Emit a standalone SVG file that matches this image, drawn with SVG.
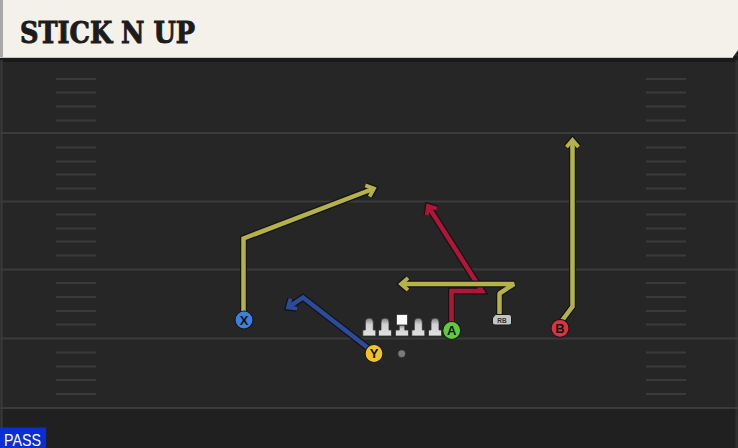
<svg xmlns="http://www.w3.org/2000/svg" width="738" height="448" viewBox="0 0 738 448">
<defs>
<style>
.yl{stroke:#3b3b3b;stroke-width:2;}
.hash{stroke:#3a3a3a;stroke-width:2;}
.out{fill:none;stroke:#141414;stroke-width:7;stroke-linejoin:miter;stroke-linecap:butt;}
.rt{fill:none;stroke-width:4.5;stroke-linejoin:miter;stroke-linecap:butt;}
.bev{stroke-linejoin:bevel;}
.yel{stroke:#b5b24a;}
.red{stroke:#b0163a;}
.blu{stroke:#2c4b9c;}
.pl{stroke:#1a1a1a;stroke-width:1.2;}
.lt{font-family:"Liberation Sans",Arial,sans-serif;font-weight:bold;font-size:13px;fill:#111;text-anchor:middle;}
.ol{fill:url(#lg);stroke:#333;stroke-width:0.8;}
</style>
<linearGradient id="lg" x1="0" y1="0" x2="0" y2="1">
<stop offset="0" stop-color="#7e7e7e"/>
<stop offset="0.35" stop-color="#d0d0d0"/>
<stop offset="1" stop-color="#e2e2e2"/>
</linearGradient>
<marker id="ay" markerUnits="userSpaceOnUse" orient="auto" refX="0" refY="0" markerWidth="30" markerHeight="30" overflow="visible">
<path d="M-7,-6 L0,0 L-7,6" fill="none" stroke="#141414" stroke-width="6.5" stroke-linejoin="miter"/>
<path d="M-8,0 L0,0" fill="none" stroke="#b5b24a" stroke-width="4.5"/>
<path d="M-7,-6 L0,0 L-7,6" fill="none" stroke="#b5b24a" stroke-width="3.8" stroke-linejoin="miter"/>
</marker>
<marker id="ar" markerUnits="userSpaceOnUse" orient="auto" refX="0" refY="0" markerWidth="30" markerHeight="30" overflow="visible">
<path d="M-7,-6 L0,0 L-7,6" fill="none" stroke="#141414" stroke-width="6.5" stroke-linejoin="miter"/>
<path d="M-8,0 L0,0" fill="none" stroke="#b0163a" stroke-width="4.5"/>
<path d="M-7,-6 L0,0 L-7,6" fill="none" stroke="#b0163a" stroke-width="3.8" stroke-linejoin="miter"/>
</marker>
<marker id="ab" markerUnits="userSpaceOnUse" orient="auto" refX="0" refY="0" markerWidth="30" markerHeight="30" overflow="visible">
<path d="M-7,-6 L0,0 L-7,6" fill="none" stroke="#141414" stroke-width="6.5" stroke-linejoin="miter"/>
<path d="M-8,0 L0,0" fill="none" stroke="#2c4b9c" stroke-width="4.5"/>
<path d="M-7,-6 L0,0 L-7,6" fill="none" stroke="#2c4b9c" stroke-width="3.8" stroke-linejoin="miter"/>
</marker>
</defs>

<!-- field -->
<rect x="0" y="0" width="738" height="448" fill="#262626"/>
<rect x="0" y="408" width="738" height="40" fill="#202020"/>
<rect x="0" y="56" width="738" height="6" fill="#1a1a1a"/>
<line x1="1.5" y1="60" x2="1.5" y2="448" stroke="#3a3a3a" stroke-width="2"/>
<line x1="736.5" y1="60" x2="736.5" y2="448" stroke="#333" stroke-width="2"/>
<g id="yardlines">
<line class="yl" x1="0" y1="133" x2="738" y2="133"/>
<line class="yl" x1="0" y1="201.5" x2="738" y2="201.5"/>
<line class="yl" x1="0" y1="269.5" x2="738" y2="269.5"/>
<line class="yl" x1="0" y1="338.5" x2="738" y2="338.5"/>
<line class="yl" x1="0" y1="408" x2="738" y2="408"/>
</g>
<g id="hashes">
<path class="hash" d="M56,79H96M56,92.5H96M56,106.5H96M56,120.5H96M56,147.5H96M56,161.5H96M56,174.5H96M56,188.5H96M56,214.5H96M56,228.5H96M56,241.5H96M56,255.5H96M56,283H96M56,297H96M56,311H96M56,324.5H96M56,352.5H96M56,366.5H96M56,380H96M56,394H96"/>
<path class="hash" d="M646,79H686M646,92.5H686M646,106.5H686M646,120.5H686M646,147.5H686M646,161.5H686M646,174.5H686M646,188.5H686M646,214.5H686M646,228.5H686M646,241.5H686M646,255.5H686M646,283H686M646,297H686M646,311H686M646,324.5H686M646,352.5H686M646,366.5H686M646,380H686M646,394H686"/>
</g>

<!-- header -->
<g id="header">
<path d="M0,0 H738 V50 L733,57 H0 Z" fill="#f4f1ea"/>
<rect x="0" y="0" width="3" height="57" fill="#a8a8a8"/>
<line x1="0" y1="57.5" x2="733" y2="57.5" stroke="#c9c6bf" stroke-width="1"/>
<text x="20" y="43" font-family="'DejaVu Serif',serif" font-weight="bold" font-size="29" fill="#1c1c1c" stroke="#1c1c1c" stroke-width="1" textLength="175" lengthAdjust="spacingAndGlyphs">STICK N UP</text>
</g>

<!-- connectors -->
<g id="connectors">
<!-- X route -->
<path class="out" d="M243.5,318 V238.5 L374,188.5"/>
<path class="rt yel" d="M243.5,318 V238.5 L374,188.5" marker-end="url(#ay)"/>
<!-- Y route -->
<path class="out" d="M372,351 L303,297.5 L288,307.5"/>
<path class="rt blu" d="M372,351 L303,297.5 L288,307.5" marker-end="url(#ab)"/>
<!-- A route -->
<path class="out" d="M451.5,322 V291 H482 L428,206"/>
<path class="rt red" d="M451.5,322 V291 H482 L428,206" marker-end="url(#ar)"/>
<!-- RB route -->
<path class="out bev" d="M499.5,315 V293.5 L514,284 H401"/>
<path class="rt yel bev" d="M499.5,315 V293.5 L514,284 H401" marker-end="url(#ay)"/>
<!-- B route -->
<path class="out" d="M561,322 L572.5,306.5 V140"/>
<path class="rt yel" d="M561,322 L572.5,306.5 V140" marker-end="url(#ay)"/>
</g>

<!-- linemen -->
<g id="lt">
<path class="ol" d="M365.3,330 V322 A4,4 0 0 1 373.3,322 V330 H375.8 V336 H362.8 V330 Z"/>
</g>
<g id="lg2">
<path class="ol" d="M381,330 V322 A4,4 0 0 1 389,322 V330 H391.5 V336 H378.5 V330 Z"/>
</g>
<g id="c">
<path class="ol" d="M399.2,325 V330 H395.5 V336 H408.5 V330 H404.8 V325 Z"/>
<rect x="396.5" y="314.5" width="11" height="10.5" fill="#fafafa" stroke="#333" stroke-width="0.8"/>
</g>
<g id="rg">
<path class="ol" d="M414.3,330 V322 A4,4 0 0 1 422.3,322 V330 H424.8 V336 H411.8 V330 Z"/>
</g>
<g id="rt">
<path class="ol" d="M431,330 V322 A4,4 0 0 1 439,322 V330 H441.5 V336 H428.5 V330 Z"/>
</g>
<g id="qb">
<circle cx="401.7" cy="353.7" r="4" fill="#7a7a7a" stroke="#222" stroke-width="0.8"/>
</g>
<g id="rb">
<path d="M495.5,314.5 H509 Q511.5,314.5 511.5,317 V323 Q511.5,325 509,325 H495 Q492.5,325 492.5,323 V318 Z" fill="#c4c4c4" stroke="#1a1a1a" stroke-width="1"/>
<text x="502" y="322.5" font-family="'Liberation Sans',Arial,sans-serif" font-weight="bold" font-size="6.5" fill="#333" text-anchor="middle">RB</text>
</g>

<!-- players -->
<g id="X">
<circle class="pl" cx="244" cy="320" r="9" fill="#3d7fe0"/>
<text class="lt" x="244" y="324.7">X</text>
</g>
<g id="Y">
<circle class="pl" cx="374" cy="353.5" r="9" fill="#f0c224"/>
<text class="lt" x="374" y="358.2">Y</text>
</g>
<g id="A">
<circle class="pl" cx="451.7" cy="330.5" r="9" fill="#5fcd3a"/>
<text class="lt" x="451.7" y="335.2">A</text>
</g>
<g id="B">
<circle class="pl" cx="560" cy="328.3" r="9" fill="#e2313c"/>
<text class="lt" x="560" y="333">B</text>
</g>

<!-- badge -->
<g id="pass">
<rect x="0" y="427.5" width="46" height="20.5" fill="#0a2ed6"/>
<text x="4" y="446" font-family="'Liberation Sans',Arial,sans-serif" font-size="16.5" fill="#ffffff" textLength="37" lengthAdjust="spacingAndGlyphs">PASS</text>
</g>
</svg>
